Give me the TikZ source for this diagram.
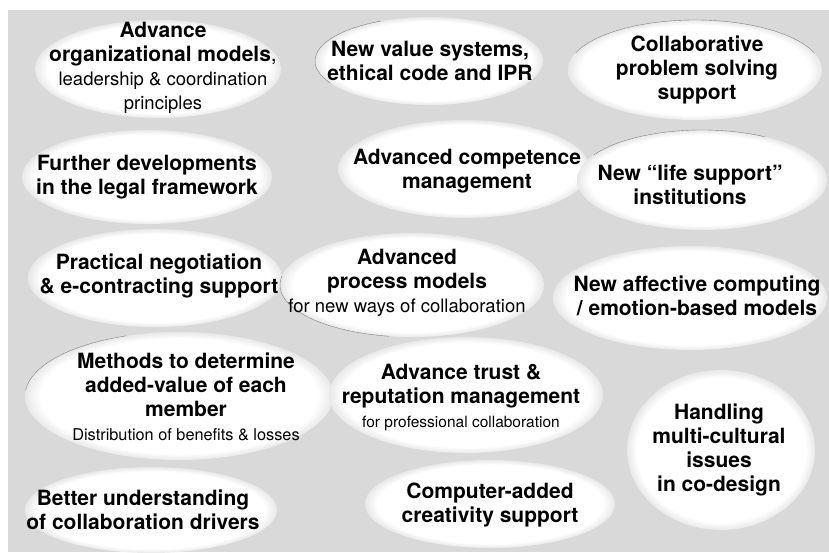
\documentclass[tikz,border=0pt]{standalone}
\usepackage{fontspec}
\setmainfont{TeX Gyre Heros}
\definecolor{panel}{gray}{0.85}
\pgfdeclareradialshading{blobshade}{\pgfpoint{0bp}{0bp}}{color(0bp)=(white); color(22.5bp)=(white); color(25bp)=(white!91!black); color(50bp)=(white!91!black)}
\newcommand{\sm}[2][18.5]{{\fontsize{#1}{24}\selectfont\mdseries #2}}

\begin{document}
\begin{tikzpicture}[x=1pt,y=-1pt,
    blob/.style={shading=blobshade},
    rim/.style={draw=black!50,line width=0.4pt},
    idea/.style={align=center,inner sep=0pt,font=\fontsize{21}{24}\selectfont\bfseries}]
  \useasboundingbox (0,0) rectangle (829,552);
  \fill[panel] (8,10) rectangle (829,552);
  % bubbles
  \foreach \cx/\cy/\rx/\ry in {158/69/123/49, 429/61/114/44, 695/70/127/50,
      147/177/125/47, 464/169/126/49, 702/180/125/50,
      155/278/127/49, 412/285/132/52, 690/298/137/52,
      179/396/154/64, 466/395/137/58, 721/450/94/80,
      151/510/126/43, 490/504/125/44}
    \shade[blob] (\cx,\cy) ellipse ({\rx} and {\ry});
  % thin rims on some bubbles
  \foreach \cx/\cy/\rx/\ry/\a/\b in {429/61/114/44/115/210, 695/70/127/50/20/160,
      702/180/125/50/60/150, 412/285/132/52/170/260, 179/396/154/64/110/175}
    \draw[rim] (\cx,\cy) ++({\rx*cos(-\a)},{\ry*sin(-\a)})
      arc[start angle=-\a,end angle=-\b,x radius=\rx,y radius=\ry];
  % texts
  \node[idea] (orgmodels) at (163,68) {Advance\\organizational models\textmd{,}\\\sm{leadership \& coordination}\\\sm{principles}};
  \node[idea] (values) at (430,61) {New value systems,\\ethical code and IPR};
  \node[idea] (problem) at (697,70) {Collaborative\\problem solving\\support};
  \node[idea] (legal) at (147,177) {Further developments\\in the legal framework};
  \node[idea] (competence) at (467,171) {Advanced competence\\management};
  \node[idea] (lifesupport) at (690,185) {New “life support”\\institutions};
  \node[idea] (negotiation) at (159,276) {Practical negotiation\\\& e-contracting support};
  \node[idea] (process) at (407,283) {Advanced\\process models\\\sm{for new ways of collaboration}};
  \node[idea] (affective) at (697,296) {New affective computing\\/ emotion-based models};
  \node[idea] (methods) at (186,397) {Methods to determine\\added-value of each\\member\\\sm[16.3]{Distribution of benefits \& losses}};
  \node[idea] (trust) at (461,398) {Advance trust \&\\reputation management\\\sm[15.5]{for professional collaboration}};
  \node[idea] (handling) at (719,450) {Handling\\multi-cultural\\issues\\in co-design};
  \node[idea] (drivers) at (143,510) {Better understanding\\of collaboration drivers};
  \node[idea] (creativity) at (490,505) {Computer-added\\creativity support};
\end{tikzpicture}
\end{document}
